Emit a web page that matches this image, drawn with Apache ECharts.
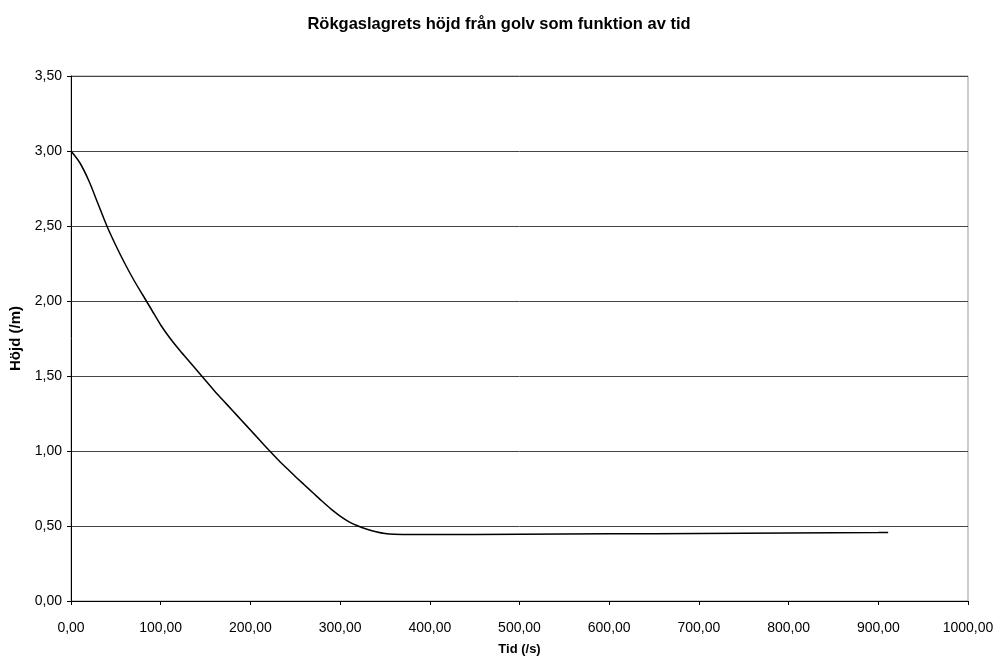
<!DOCTYPE html>
<html>
<head>
<meta charset="utf-8">
<script src="https://cdn.jsdelivr.net/npm/echarts@6/dist/echarts.min.js"></script>
<style>html,body{margin:0;padding:0;background:#fff}#c{width:998px;height:663px}</style>
</head>
<body>
<div id="c"></div>
<script>
const titleText = 'Rökgaslagrets höjd från golv som funktion av tid';
const xName = 'Tid (/s)';
const yName = 'Höjd (/m)';
const tid = [0,10,20,30,40,50,60,70,80,90,100,110,120,130,140,150,160,170,180,190,200,210,220,230,240,250,260,270,280,290,300,310,320,330,340,350,360,380,400,500,600,700,800,900,911];
const hojd = [3.00,2.92,2.80,2.65,2.50,2.37,2.25,2.14,2.04,1.94,1.84,1.755,1.68,1.61,1.54,1.47,1.40,1.335,1.27,1.205,1.14,1.075,1.01,0.947,0.888,0.83,0.775,0.72,0.665,0.612,0.566,0.528,0.50,0.478,0.462,0.45,0.445,0.443,0.443,0.445,0.448,0.450,0.453,0.456,0.457];

const fmt = v => v.toFixed(2).replace('.', ',');
const chart = echarts.init(document.getElementById('c'));
chart.setOption({
  animation: false,
  backgroundColor: '#fff',
  title: {
    text: titleText, left: 'center', top: 11,
    textStyle: {fontFamily: 'Liberation Sans', fontSize: 16.5, fontWeight: 'bold', color: '#000'}
  },
  grid: {left: 71, right: 30, top: 76, bottom: 62, show: true, borderColor: '#999', borderWidth: 1, backgroundColor: 'transparent'},
  xAxis: {
    type: 'value', min: 0, max: 1000, interval: 100,
    name: xName, nameLocation: 'middle', nameGap: 42,
    nameTextStyle: {fontFamily: 'Liberation Sans', fontSize: 13, fontWeight: 'bold', color: '#000'},
    axisLine: {show: true, lineStyle: {color: '#000', width: 1}},
    axisTick: {show: true, length: 4, lineStyle: {color: '#000'}},
    axisLabel: {formatter: fmt, fontFamily: 'Liberation Sans', fontSize: 14, color: '#000', margin: 20},
    splitLine: {show: false}
  },
  yAxis: {
    type: 'value', min: 0, max: 3.5, interval: 0.5,
    name: yName, nameLocation: 'middle', nameGap: 44, nameRotate: 90,
    nameTextStyle: {fontFamily: 'Liberation Sans', fontSize: 15, fontWeight: 'bold', color: '#000'},
    axisLine: {show: true, lineStyle: {color: '#000', width: 1}},
    axisTick: {show: true, length: 4, lineStyle: {color: '#000'}},
    axisLabel: {formatter: fmt, fontFamily: 'Liberation Sans', fontSize: 14, color: '#000', margin: 9},
    splitLine: {show: true, lineStyle: {color: '#444', width: 1}}
  },
  series: [{
    type: 'line',
    data: tid.map((t, i) => [t, hojd[i]]),
    smooth: 0.3,
    showSymbol: false,
    lineStyle: {color: '#000', width: 1.5}
  }]
});
</script>
</body>
</html>
